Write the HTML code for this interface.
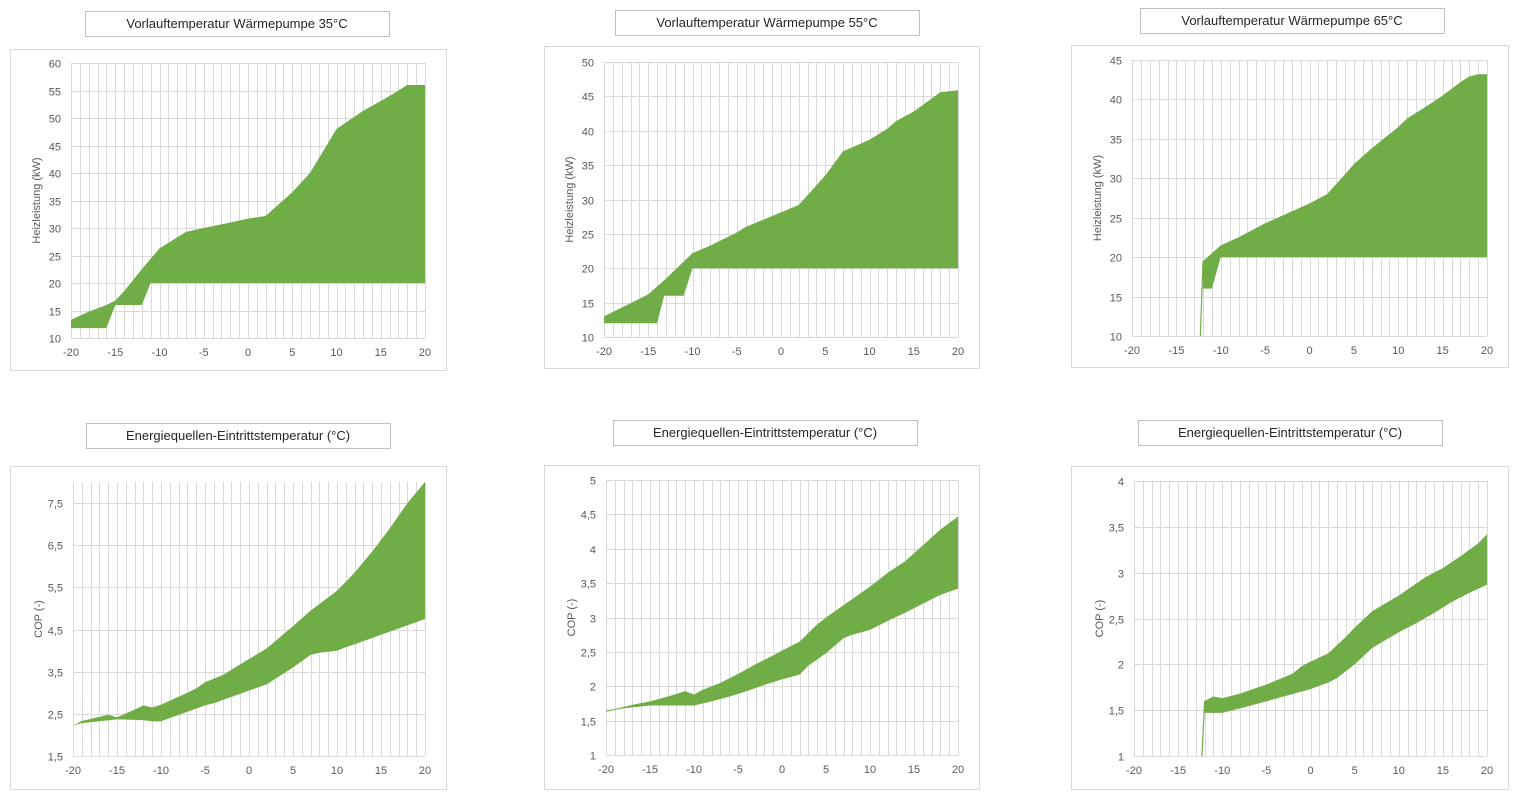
<!DOCTYPE html>
<html><head><meta charset="utf-8">
<style>
body{margin:0;background:#fff;width:1521px;height:800px;overflow:hidden;font-family:"Liberation Sans",sans-serif}
svg{position:absolute;left:0;top:0}
text{font-family:"Liberation Sans",sans-serif}
</style></head><body>
<svg id="s" width="1521" height="800" xmlns="http://www.w3.org/2000/svg"></svg>
<script>
const charts=[
{title:"Vorlauftemperatur Wärmepumpe 35°C",tb:[85,11,304,25],fr:[10,49,436,321],pl:[71,63,425,338],y0:10,y1:60,yt:["10","15","20","25","30","35","40","45","50","55","60"],yv:[10,15,20,25,30,35,40,45,50,55,60],yl:"Heizleistung (kW)",
poly:[[-20,13.3],[-18,14.8],[-16,16],[-15,16.8],[-14,18.5],[-12,22.5],[-10,26.3],[-7,29.3],[-5,30],[-2,31],[0,31.7],[2,32.2],[5,36.5],[7,40],[10,48],[13,51.3],[16,54],[18,56],[20,56],[20,20],[-11,20],[-12,16],[-15,16],[-16,11.8],[-20,11.8]]},
{title:"Vorlauftemperatur Wärmepumpe 55°C",tb:[615,10,304,25],fr:[544,46,435,322],pl:[604,62,958,337],y0:10,y1:50,yt:["10","15","20","25","30","35","40","45","50"],yv:[10,15,20,25,30,35,40,45,50],yl:"Heizleistung (kW)",
poly:[[-20,13],[-15,16.2],[-13,18.5],[-10,22.2],[-8,23.3],[-5,25.2],[-4,26],[2,29.2],[5,33.5],[7,37],[10,38.7],[12,40.3],[13,41.4],[15,42.8],[18,45.6],[20,45.9],[20,20],[-10,20],[-11,16],[-13.2,16],[-14,12],[-20,12]]},
{title:"Vorlauftemperatur Wärmepumpe 65°C",tb:[1140,8,304,25],fr:[1071,45,437,322],pl:[1132,60,1487,336],y0:10,y1:45,yt:["10","15","20","25","30","35","40","45"],yv:[10,15,20,25,30,35,40,45],yl:"Heizleistung (kW)",
poly:[[-12,19.5],[-10,21.5],[-8,22.5],[-5,24.3],[-2,25.8],[0,26.8],[2,28],[4,30.5],[5,31.8],[7,33.8],[10,36.5],[11,37.6],[13,39],[15,40.5],[17,42.2],[18,42.9],[19,43.2],[20,43.2],[20,20],[-10,20],[-11,16],[-12,16]],line:[[-12.3,10],[-12,19.5]]},
{title:"Energiequellen-Eintrittstemperatur (°C)",tb:[86,423,304,25],fr:[10,466,436,323],pl:[73,482,425,756],y0:1.5,y1:8,yt:["1,5","2,5","3,5","4,5","5,5","6,5","7,5"],yv:[1.5,2.5,3.5,4.5,5.5,6.5,7.5],yl:"COP (-)",
poly:[[-20,2.22],[-19,2.33],[-16,2.48],[-15,2.42],[-13,2.6],[-12,2.7],[-11,2.65],[-10,2.72],[-7,3.0],[-6,3.1],[-5,3.25],[-3,3.42],[0,3.8],[2,4.05],[5,4.58],[7,4.95],[10,5.42],[12,5.85],[14,6.35],[16,6.9],[18,7.5],[20,8],[20,4.75],[16,4.45],[14,4.3],[12,4.15],[11,4.08],[10,4.0],[8,3.95],[7,3.9],[5,3.6],[2,3.2],[0,3.05],[-4,2.75],[-5,2.7],[-7,2.55],[-9,2.4],[-10,2.32],[-11,2.32],[-12,2.35],[-15,2.37],[-19,2.28],[-20,2.22]]},
{title:"Energiequellen-Eintrittstemperatur (°C)",tb:[613,420,304,25],fr:[544,465,435,324],pl:[606,480,958,755],y0:1,y1:5,yt:["1","1,5","2","2,5","3","3,5","4","4,5","5"],yv:[1,1.5,2,2.5,3,3.5,4,4.5,5],yl:"COP (-)",
poly:[[-20,1.65],[-19,1.67],[-17,1.73],[-15,1.78],[-13,1.85],[-11,1.93],[-10,1.88],[-9,1.95],[-7,2.05],[-5,2.18],[-3,2.32],[-1,2.45],[0,2.52],[2,2.65],[4,2.9],[5,3.0],[7,3.18],[10,3.45],[12,3.65],[14,3.82],[16,4.05],[18,4.28],[20,4.47],[20,3.42],[18,3.33],[16,3.2],[14,3.07],[12,2.95],[10,2.82],[8,2.75],[7,2.7],[5,2.48],[3,2.3],[2,2.17],[0,2.1],[-2,2.02],[-4,1.93],[-6,1.85],[-8,1.78],[-10,1.72],[-15,1.72],[-18,1.68],[-20,1.63]]},
{title:"Energiequellen-Eintrittstemperatur (°C)",tb:[1138,420,304,25],fr:[1071,466,437,323],pl:[1134,481,1487,756],y0:1,y1:4,yt:["1","1,5","2","2,5","3","3,5","4"],yv:[1,1.5,2,2.5,3,3.5,4],yl:"COP (-)",
poly:[[-12,1.6],[-11,1.65],[-10,1.63],[-8,1.68],[-5,1.78],[-2,1.9],[-1,1.98],[0,2.03],[2,2.12],[4,2.3],[5,2.4],[7,2.58],[10,2.75],[13,2.95],[15,3.05],[17,3.18],[18,3.25],[19,3.32],[20,3.42],[20,2.87],[18,2.78],[16,2.68],[14,2.56],[12,2.45],[10,2.35],[7,2.18],[5,2.0],[3,1.85],[2,1.8],[0,1.73],[-3,1.65],[-6,1.57],[-8,1.52],[-10,1.47],[-12,1.47]],line:[[-12.3,1],[-12,1.6]]}
];
const xt=["-20","-15","-10","-5","0","5","10","15","20"];
let h="";
for(const c of charts){
 const [x0,y0,x1,y1]=c.pl;
 const X=v=>x0+(v+20)/40*(x1-x0), Y=v=>y1-(v-c.y0)/(c.y1-c.y0)*(y1-y0);
 h+=`<rect x="${c.fr[0]+.5}" y="${c.fr[1]+.5}" width="${c.fr[2]}" height="${c.fr[3]}" fill="#fff" stroke="#d9d9d9"/>`;
 h+=`<rect x="${c.tb[0]+.5}" y="${c.tb[1]+.5}" width="${c.tb[2]}" height="${c.tb[3]}" fill="#fff" stroke="#bfbfbf"/>`;
 h+=`<text x="${c.tb[0]+c.tb[2]/2}" y="${c.tb[1]+17}" font-size="13" fill="#262626" text-anchor="middle">${c.title}</text>`;
 for(let i=0;i<=40;i++){const x=Math.round(X(i-20))+.5;h+=`<line x1="${x}" y1="${y0}" x2="${x}" y2="${y1}" stroke="#d9d9d9"/>`;}
 c.yv.forEach((v,i)=>{const y=Math.round(Y(v))+.5;h+=`<line x1="${x0}" y1="${y}" x2="${x1}" y2="${y}" stroke="#d9d9d9"/><text x="${x0-10}" y="${y+4}" font-size="11" fill="#595959" text-anchor="end">${c.yt[i]}</text>`;});
 xt.forEach((t,i)=>{h+=`<text x="${X(-20+5*i)}" y="${y1+18}" font-size="11" fill="#595959" text-anchor="middle">${t}</text>`;});
 const cy=(y0+y1)/2;
 h+=`<text x="${x0-31}" y="${cy}" font-size="11" fill="#595959" text-anchor="middle" transform="rotate(-90 ${x0-31} ${cy})">${c.yl}</text>`;
 h+=`<polygon points="${c.poly.map(p=>X(p[0])+","+Y(p[1])).join(" ")}" fill="#70ad47"/>`;
 if(c.line)h+=`<polyline points="${c.line.map(p=>X(p[0])+","+Y(p[1])).join(" ")}" fill="none" stroke="#70ad47" stroke-width="1.2"/>`;
}
document.getElementById("s").innerHTML=h;
</script>
</body></html>
